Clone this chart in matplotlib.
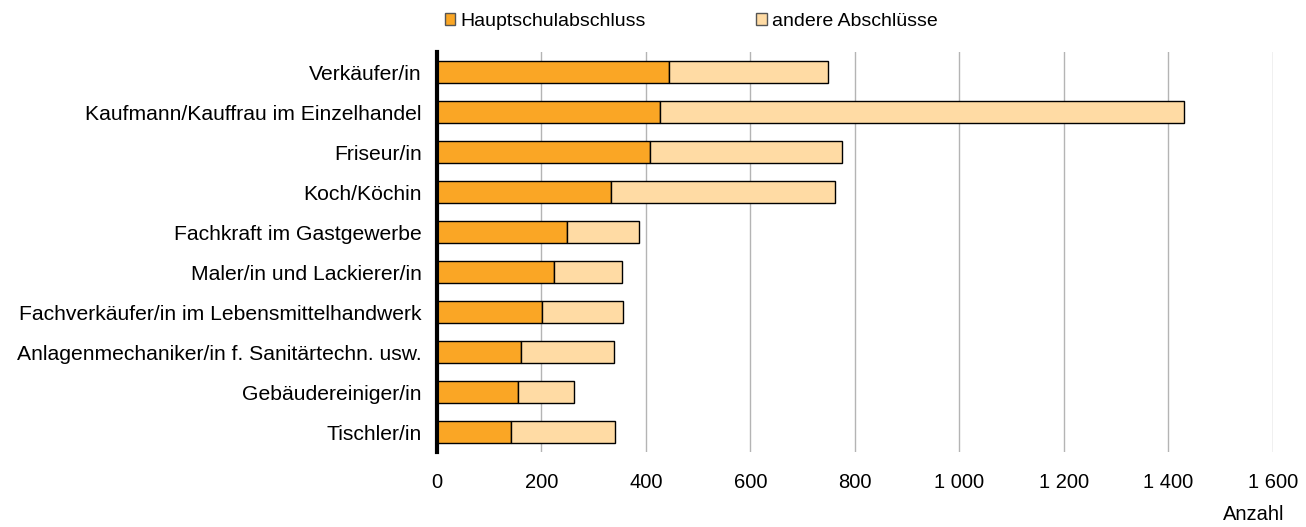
import matplotlib.pyplot as plt
from matplotlib.ticker import FuncFormatter

# Ausbildungsberufe (von oben nach unten)
berufe = [
    'Verkäufer/in',
    'Kaufmann/Kauffrau im Einzelhandel',
    'Friseur/in',
    'Koch/Köchin',
    'Fachkraft im Gastgewerbe',
    'Maler/in und Lackierer/in',
    'Fachverkäufer/in im Lebensmittelhandwerk',
    'Anlagenmechaniker/in f. Sanitärtechn. usw.',
    'Gebäudereiniger/in',
    'Tischler/in',
]
hauptschule = [445, 426, 407, 333, 248, 224, 201, 160, 155, 141]
andere = [303, 1004, 368, 429, 138, 130, 156, 179, 107, 200]

plt.rcParams['font.family'] = ['Liberation Sans', 'DejaVu Sans']

fig = plt.figure(figsize=(13.06, 5.27), dpi=100)
ax = fig.add_axes([0.3346, 0.142, 0.64, 0.759])

pos = list(range(len(berufe)))
ax.barh(pos, hauptschule, height=0.545, color='#FAA625', edgecolor='black',
        linewidth=1, label='Hauptschulabschluss', zorder=3)
ax.barh(pos, andere, left=hauptschule, height=0.545, color='#FFDBA4',
        edgecolor='black', linewidth=1, label='andere Abschlüsse', zorder=3)

ax.set_yticks(pos)
ax.set_yticklabels(berufe, fontsize=15.2)
ax.set_ylim(9.5, -0.5)
ax.set_xlim(0, 1600)
ax.set_xticks(range(0, 1601, 200))
ax.xaxis.set_major_formatter(FuncFormatter(lambda v, p: f'{int(v):,}'.replace(',', ' ')))
ax.tick_params(axis='x', length=0, labelsize=14.5, pad=15)
ax.tick_params(axis='y', length=0, pad=11)

ax.grid(axis='x', color='#b4b4b4', linewidth=1, zorder=0)
for s in ['top', 'right', 'bottom']:
    ax.spines[s].set_visible(False)
ax.spines['left'].set_linewidth(3)
ax.spines['left'].set_zorder(4)

ax.text(1.0144, -0.155, 'Anzahl', transform=ax.transAxes, ha='right', va='center', fontsize=14.5)

leg = ax.legend(loc='center', bbox_to_anchor=(0.304, 1.0775), ncol=2, frameon=False,
                fontsize=14, handlelength=0.55, handleheight=0.55, handletextpad=0.25,
                columnspacing=5.7, borderpad=0, borderaxespad=0)
for h in leg.legend_handles:
    h.set_edgecolor('#555555')

plt.savefig('out.png', dpi=100)
